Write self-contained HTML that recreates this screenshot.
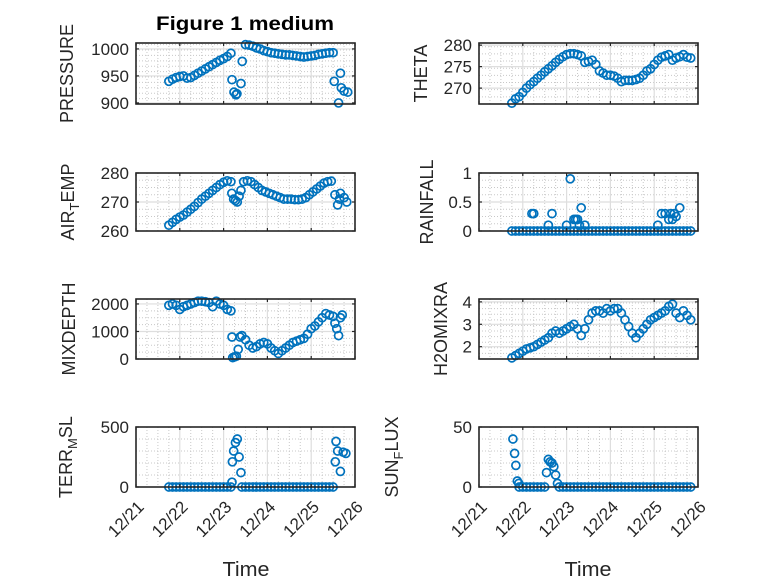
<!DOCTYPE html>
<html><head><meta charset="utf-8"><style>
html,body{margin:0;padding:0;background:#fff;}
svg{display:block;font-family:"Liberation Sans",sans-serif;}
</style></head><body>
<svg id="fig" width="778" height="583" viewBox="0 0 778 583" xmlns="http://www.w3.org/2000/svg">
<rect width="778" height="583" fill="#fff"/>
<text x="245" y="30" text-anchor="middle" font-size="19" font-weight="bold" fill="#000" textLength="178" lengthAdjust="spacingAndGlyphs">Figure 1 medium</text>
<text x="246" y="576" text-anchor="middle" font-size="20" fill="#262626" textLength="47" lengthAdjust="spacingAndGlyphs">Time</text>
<text x="588" y="576" text-anchor="middle" font-size="20" fill="#262626" textLength="47" lengthAdjust="spacingAndGlyphs">Time</text>
</svg>
<script>
const xTickLabels = ["12/21","12/22","12/23","12/24","12/25","12/26"];
const pressureHours = [18,20,22,24,26,28,30,32,34,36,38,40,42,44,46,48,50,52,52.6,53.7,54.8,55.3,57.5,58.2,60,62,64,66,68,70,72,74,76,78,80,82,84,86,88,90,92,94,96,98,100,102,104,106,108,108.6,111,112,112.5,114,116];
const pressureValues = [940,944,947,949,950,946,947,951,955,959,963,967,971,975,979,982,986,992,943,920,915,917,936,977,1008,1007,1005,1002,1000,997,995,993,992,991,990,989,989,988,987,986,985,986,987,988,990,991,992,993,993,940,900,955,928,922,920];
const thetaHours = [18,20,22,24,26,28,30,32,34,36,38,40,42,44,46,48,50,52,54,56,58,60,62,64,66,68,70,72,74,76,78,80,82,84,86,88,90,92,94,96,98,100,102,104,106,108,110,112,114,116];
const thetaValues = [266.5,267.5,268,269,270,270.8,271.5,272.3,273,273.8,274.5,275.2,276,276.7,277.3,277.8,278,278,277.8,277.5,276,276.2,276.5,275.5,274,273.5,273,273,272.8,272.3,271.5,271.8,271.8,271.8,272,272.3,273,274,274.5,275.5,276.5,277.2,277.5,277.8,276.5,277,277.3,277.8,277.2,277];
const airHours = [18,20,22,24,26,28,30,32,34,36,38,40,42,44,46,48,50,52,52.5,53.5,54.5,55.5,56.5,57.5,59,61,63,65,67,69,71,73,75,77,79,81,83,85,87,89,91,93,95,97,99,101,103,105,107,109,110.5,111.5,112,114,115.5];
const airValues = [262,263,264,264.8,265.5,266.5,267.5,268.5,269.8,271,272,273,274,275,276,276.8,277.3,277,273,271,270.5,270,272,274,277,277.3,277,276,275,274,273.5,273,272.5,272,271.5,271,271,271,270.8,270.8,271,271.5,272.5,273.5,274.5,275.5,276.5,277,277.2,272.5,269,271,273,271.5,270];
const rainHours = [18,20,22,24,26,28,30,32,34,36,38,40,42,44,46,48,50,52,54,56,58,60,62,64,66,68,70,72,74,76,78,80,82,84,86,88,90,92,94,96,98,100,102,104,106,108,110,112,114,116,29,30,38,40,48,50,52,53,54,55,56,58,98,100,102,104,105,106,107,108,110];
const rainValues = [0,0,0,0,0,0,0,0,0,0,0,0,0,0,0,0,0,0,0,0,0,0,0,0,0,0,0,0,0,0,0,0,0,0,0,0,0,0,0,0,0,0,0,0,0,0,0,0,0,0,0.3,0.3,0.1,0.3,0.1,0.9,0.2,0.2,0.2,0.1,0.4,0.1,0.1,0.3,0.3,0.2,0.3,0.2,0.3,0.25,0.4];
const mixHours = [18,20,22,24,26,28,30,32,34,36,38,40,42,44,46,48,50,52,52.6,53,54,55,56,57,58,60,62,64,66,68,70,72,74,76,78,80,82,84,86,88,90,92,94,96,98,100,102,104,106,108,109,110,111,112,113];
const mixValues = [1950,2000,1950,1800,1900,1950,2000,2050,2100,2100,2080,2050,1900,2100,2000,1950,1800,1750,800,50,80,100,350,800,850,700,500,400,450,550,600,550,400,300,200,300,400,500,600,650,700,750,900,1100,1200,1350,1500,1650,1600,1550,1300,1100,850,1500,1600];
const h2oHours = [18,20,22,24,26,28,30,32,34,36,38,40,42,44,46,48,50,52,54,56,58,60,62,64,66,68,70,72,74,76,78,80,82,84,86,88,90,92,94,96,98,100,102,104,106,108,110,112,114,116];
const h2oValues = [1.5,1.6,1.7,1.8,1.9,1.95,2.0,2.1,2.2,2.3,2.4,2.6,2.7,2.6,2.7,2.8,2.9,3.0,2.8,2.5,2.8,3.2,3.5,3.6,3.6,3.5,3.7,3.6,3.7,3.7,3.5,3.2,2.9,2.6,2.4,2.6,2.8,3.0,3.2,3.3,3.4,3.5,3.6,3.8,3.9,3.5,3.3,3.6,3.4,3.2];
const terrHours = [18,20,22,24,26,28,30,32,34,36,38,40,42,44,46,48,50,52,52.6,52.8,53.5,54.5,55.5,56.5,57.5,58,60,62,64,66,68,70,72,74,76,78,80,82,84,86,88,90,92,94,96,98,100,102,104,106,108,109.2,109.6,110.5,112,113.5,115];
const terrValues = [0,0,0,0,0,0,0,0,0,0,0,0,0,0,0,0,0,0,40,210,300,370,400,250,120,0,0,0,0,0,0,0,0,0,0,0,0,0,0,0,0,0,0,0,0,0,0,0,0,0,0,210,380,300,130,290,280];
const sunHours = [18.6,19.5,20.2,21,21.8,22,24,26,28,30,32,34,36,37,38,39,40,41,42,43,44,46,48,50,52,54,56,58,60,62,64,66,68,70,72,74,76,78,80,82,84,86,88,90,92,94,96,98,100,102,104,106,108,110,112,114,116];
const sunValues = [40,28,18,5,3,0,0,0,0,0,0,0,0,12,23,21,20,17,10,3,0,0,0,0,0,0,0,0,0,0,0,0,0,0,0,0,0,0,0,0,0,0,0,0,0,0,0,0,0,0,0,0,0,0,0,0,0];

const NS = "http://www.w3.org/2000/svg";
const svg = document.getElementById("fig");
function mk(tag, attrs, parent){
  const e = document.createElementNS(NS, tag);
  for (const k in attrs) e.setAttribute(k, attrs[k]);
  (parent||svg).appendChild(e);
  return e;
}
function drawPanel(p){
  const g = mk("g", {});
  
  
  const x0=p.x, y0=p.y, w=p.w, h=p.h;
  const xs = t => x0 + (t/120)*w;
  const ys = v => y0 + h - (v - p.ylim[0])/(p.ylim[1]-p.ylim[0])*h;
  for (let t=6; t<120; t+=6){ if (t%24===0) continue;
    mk("line",{x1:xs(t),x2:xs(t),y1:y0,y2:y0+h,stroke:"#c8c8c8","stroke-width":1,"stroke-dasharray":"1,2"},g); }
  for (let v=p.ylim[0]; v<=p.ylim[1]+1e-9; v+=p.minor){
    const yy = ys(v); if (yy<y0+0.5||yy>y0+h-0.5) continue;
    mk("line",{x1:x0,x2:x0+w,y1:yy,y2:yy,stroke:"#c8c8c8","stroke-width":1,"stroke-dasharray":"1,2"},g); }
  for (let i=1;i<5;i++){ mk("line",{x1:xs(i*24),x2:xs(i*24),y1:y0,y2:y0+h,stroke:"#dedede","stroke-width":1.2},g); }
  p.yticks.forEach(v=>{ const yy=ys(v);
    if (yy>y0+1 && yy<y0+h-1) mk("line",{x1:x0,x2:x0+w,y1:yy,y2:yy,stroke:"#dedede","stroke-width":1.2},g); });
  const sg = mk("g",{},g);
  
  
  for (let i=0;i<p.t.length;i++){
    const c = mk("circle",{cx:xs(p.t[i]),cy:ys(p.v[i]),r:4,fill:"none",stroke:"#0072BD","stroke-width":1.7},sg);
    
    
  }
  const b = mk("rect",{x:x0,y:y0,width:w,height:h,fill:"none",stroke:"#262626","stroke-width":1.6},g);
  
  
  for (let i=0;i<=5;i++){ const xx=xs(i*24);
    mk("line",{x1:xx,x2:xx,y1:y0+h,y2:y0+h-3,stroke:"#262626","stroke-width":1.2},g);
    mk("line",{x1:xx,x2:xx,y1:y0,y2:y0+3,stroke:"#262626","stroke-width":1.2},g);
    if (p.xlabels){
      const ax = xx+9, ay = y0+h+21;
      const tx = mk("text",{x:ax,y:ay,"text-anchor":"end","font-size":17,fill:"#262626",transform:`rotate(-45 ${ax} ${ay})`},g);
      tx.textContent = xTickLabels[i];
      
      
    }
  }
  p.yticks.forEach((v,i)=>{ const yy=ys(v);
    mk("line",{x1:x0,x2:x0+3,y1:yy,y2:yy,stroke:"#262626","stroke-width":1.2},g);
    mk("line",{x1:x0+w,x2:x0+w-3,y1:yy,y2:yy,stroke:"#262626","stroke-width":1.2},g);
    const tx = mk("text",{x:x0-7,y:yy+6,"text-anchor":"end","font-size":17,fill:"#262626"},g);
    tx.textContent = p.ytickLabels[i];
    
    
  });
  const cy = y0+h/2;
  const yl = mk("text",{x:p.lx,y:cy,"text-anchor":"middle","font-size":18,fill:"#262626",transform:`rotate(-90 ${p.lx} ${cy})`},g);
  
  
  p.label.forEach(part=>{
    const ts = mk("tspan",{},yl);
    if (part[1]==="sub"){ ts.setAttribute("font-size","13"); ts.setAttribute("dy","5"); }
    if (part[1]==="back"){ ts.setAttribute("dy","-5"); }
    ts.textContent = part[0];
  });
}
const L=136, R=479, W=219;
drawPanel({name:"pressure",x:L,y:43,w:W,h:61,ylim:[898,1011],yticks:[900,950,1000],ytickLabels:["900","950","1000"],minor:10,t:pressureHours,v:pressureValues,label:[["PRESSURE"]],lx:73});
drawPanel({name:"theta",x:R,y:43,w:W,h:61,ylim:[266.3,280.5],yticks:[270,275,280],ytickLabels:["270","275","280"],minor:1.6667,t:thetaHours,v:thetaValues,label:[["THETA"]],lx:427});
drawPanel({name:"air-temp",x:L,y:173,w:W,h:58,ylim:[260,280],yticks:[260,270,280],ytickLabels:["260","270","280"],minor:2.5,t:airHours,v:airValues,label:[["AIR"],["T","sub"],["EMP","back"]],lx:74});
drawPanel({name:"rainfall",x:R,y:173,w:W,h:58,ylim:[0,1],yticks:[0,0.5,1],ytickLabels:["0","0.5","1"],minor:0.125,t:rainHours,v:rainValues,label:[["RAINFALL"]],lx:433});
drawPanel({name:"mixdepth",x:L,y:299,w:W,h:60,ylim:[0,2180],yticks:[0,1000,2000],ytickLabels:["0","1000","2000"],minor:250,t:mixHours,v:mixValues,label:[["MIXDEPTH"]],lx:75});
drawPanel({name:"h2omixra",x:R,y:299,w:W,h:60,ylim:[1.45,4.13],yticks:[2,3,4],ytickLabels:["2","3","4"],minor:0.25,t:h2oHours,v:h2oValues,label:[["H2OMIXRA"]],lx:447});
drawPanel({name:"terr-msl",x:L,y:427,w:W,h:60,ylim:[0,500],yticks:[0,500],ytickLabels:["0","500"],minor:100,t:terrHours,v:terrValues,label:[["TERR"],["M","sub"],["SL","back"]],xlabels:true,lx:72});
drawPanel({name:"sun-flux",x:R,y:427,w:W,h:60,ylim:[0,50],yticks:[0,50],ytickLabels:["0","50"],minor:10,t:sunHours,v:sunValues,label:[["SUN"],["F","sub"],["LUX","back"]],xlabels:true,lx:398});
</script>
</body></html>
